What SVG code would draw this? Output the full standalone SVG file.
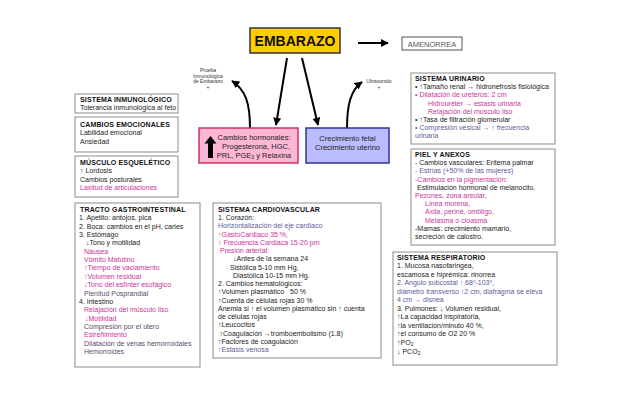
<svg xmlns="http://www.w3.org/2000/svg" width="640" height="403" viewBox="0 0 640 403">
<style>
text{font-family:"Liberation Sans",Arial,sans-serif;font-size:7px;fill:#222}
.t{font-weight:bold;letter-spacing:0.15px;fill:#111}
.m{fill:#CC3399}
.p{fill:#5C5C99}
.g{fill:#5B4B6B}
.box{fill:#fff;stroke:#8c8c8c;stroke-width:1}
.sm{font-size:5px;fill:#333;text-anchor:middle}
.con{fill:none;stroke:#000;stroke-width:2}
</style>
<defs>
<marker id="ah" viewBox="0 0 10 10" refX="9" refY="5" markerWidth="4" markerHeight="4" orient="auto" markerUnits="strokeWidth">
<path d="M0,0 L10,5 L0,10 z" fill="#000"/>
</marker>
</defs>
<rect width="640" height="403" fill="#fff"/>

<g id="connectors">
<line class="con" x1="358" y1="43" x2="388" y2="43" marker-end="url(#ah)"/>
<line class="con" x1="287" y1="58" x2="276" y2="125" marker-end="url(#ah)"/>
<line class="con" x1="302" y1="58" x2="318" y2="125" marker-end="url(#ah)"/>
<path class="con" d="M250,128 C250,104 246,90 232,81" marker-end="url(#ah)"/>
<path class="con" d="M347,128 C347,104 351,90 362,82" marker-end="url(#ah)"/>
</g>

<g id="embarazo">
<rect x="250" y="28" width="90" height="25" fill="#FFCC00" stroke="#333" stroke-width="1.5"/>
<text x="295" y="46" style="font-size:14px;font-weight:bold;text-anchor:middle;fill:#111">EMBARAZO</text>
</g>

<g id="amenorrea">
<rect x="402" y="37" width="60" height="13" fill="#fff" stroke="#555" stroke-width="1"/>
<text x="432" y="46.5" style="font-size:7.5px;text-anchor:middle;fill:#555">AMENORREA</text>
</g>

<g id="label-prueba">
<text class="sm" x="208" y="72">Prueba</text>
<text class="sm" x="208" y="77.5">Inmunológica</text>
<text class="sm" x="208" y="83">de Embarazo</text>
<text class="sm" x="208" y="89">+</text>
</g>
<g id="label-ultrasonido">
<text class="sm" x="379" y="83">Ultrasonido</text>
<text class="sm" x="379" y="89">+</text>
</g>

<g id="hormonales">
<rect x="199" y="128" width="99" height="35" fill="#FFB6D5" stroke="#CC3366" stroke-width="1.5"/>
<polygon points="210.5,136 216.5,143.5 213,143.5 213,158 208,158 208,143.5 204.5,143.5" fill="#000"/>
<text x="254" y="140" style="font-size:7.5px;text-anchor:middle">Cambios hormonales:</text>
<text x="256" y="148.5" style="font-size:7.5px;text-anchor:middle">Progesterona,  HGC,</text>
<text x="254" y="157.5" style="font-size:7.5px;text-anchor:middle">PRL, PGE<tspan style="font-size:5px" dy="1.5">3</tspan><tspan dy="-1.5"> y Relaxina</tspan></text>
</g>

<g id="crecimiento">
<rect x="306" y="128" width="83" height="35" fill="#BBBBFF" stroke="#333399" stroke-width="1.5"/>
<text x="347.5" y="141" style="font-size:7.5px;text-anchor:middle">Crecimiento fetal</text>
<text x="347.5" y="149.5" style="font-size:7.5px;text-anchor:middle">Crecimiento uterino</text>
</g>

<g id="inmunologico">
<rect class="box" x="75" y="94" width="103" height="19"/>
<text class="t" x="80" y="102">SISTEMA INMUNOLÓGICO</text>
<text x="80" y="110">Tolerancia inmunológica al feto</text>
</g>

<g id="emocionales">
<rect class="box" x="75" y="117" width="103" height="35"/>
<text class="t" x="80" y="126.5">CAMBIOS EMOCIONALES</text>
<text x="80" y="135">Labilidad emocional</text>
<text x="80" y="143.5">Ansiedad</text>
</g>

<g id="musculo">
<rect class="box" x="75" y="156" width="103" height="41"/>
<text class="t" x="80" y="164.5">MÚSCULO ESQUELÉTICO</text>
<text x="80" y="173">↑ Lordosis</text>
<text x="80" y="181.5">Cambios posturales</text>
<text class="m" x="80" y="190">Laxitud de articulaciones</text>
</g>

<g id="gastrointestinal">
<rect class="box" x="75" y="203" width="125" height="164"/>
<text class="t" x="80" y="212">TRACTO GASTROINTESTINAL</text>
<text x="79" y="220.35">1. Apetito: antojos, pica</text>
<text x="79" y="228.7">2. Boca:  cambios en el pH, caries</text>
<text x="79" y="237.05">3. Estómago</text>
<text x="86" y="245.4">↓Tono y motilidad</text>
<text class="m" x="84" y="253.75">Náusea</text>
<text class="m" x="84" y="262.1">Vómito Matutino</text>
<text class="m" x="84" y="270.45">↑Tiempo de vaciamiento</text>
<text class="m" x="84" y="278.8">↑Volumen residual</text>
<text class="m" x="84" y="287.15">↓Tono del esfínter esofágico</text>
<text class="g" x="84" y="295.5">Plenitud Posprandial</text>
<text x="79" y="303.85">4. Intestino</text>
<text class="m" x="84" y="312.2">Relajación del músculo liso</text>
<text class="m" x="85" y="320.55">↓Motilidad</text>
<text class="g" x="84" y="328.9">Compresión por el útero</text>
<text class="m" x="84" y="337.25">Estreñimiento</text>
<text class="g" x="84" y="345.6">Dilatación de venas hemorroidales</text>
<text class="g" x="84" y="353.95">Hemorroides</text>
</g>

<g id="cardiovascular">
<rect class="box" x="213" y="203" width="168" height="155"/>
<text class="t" x="218" y="212">SISTEMA CARDIOVASCULAR</text>
<text x="218" y="220.24">1. Corazón:</text>
<text class="p" x="218" y="228.48">Horizontalización del eje cardiaco</text>
<text class="m" x="218" y="236.72">↑GastoCardiaco 35 %,</text>
<text class="m" x="218" y="244.96">↑ Frecuencia Cardiaca 15-20 pm</text>
<text class="m" x="220" y="253.2">Presión arterial:</text>
<text x="233" y="261.44">↓Antes de la semana 24</text>
<text x="230" y="269.68">Sistólica 5-10 mm Hg,</text>
<text x="233" y="277.92">Diastólica 10-15 mm Hg.</text>
<text x="218" y="286.16">2. Cambios hematológicos:</text>
<text x="218" y="294.4">↑Volumen plasmático</text>
<text x="290" y="294.4">50 %</text>
<text x="218" y="302.64">↑Cuenta de células rojas 30 %</text>
<text x="218" y="310.88">Anemia si ↑ el  volumen plasmático sin ↑ cuenta</text>
<text x="218" y="319.12">de células rojas</text>
<text x="218" y="327.36">↑Leucocitos</text>
<text x="219.5" y="335.6">↑Coagulación →tromboembolismo (1.8)</text>
<text x="218" y="343.84">↑Factores de coagulación</text>
<text class="p" x="218" y="352.08">↑Estasis venosa</text>
</g>

<g id="urinario">
<rect class="box" x="411" y="73" width="144" height="71"/>
<text class="t" x="415" y="81">SISTEMA URINARIO</text>
<text x="415" y="89.2">• ↑Tamaño renal → hidronefrosis  fisiológica</text>
<text class="m" x="415" y="97.4">• Dilatación de ureteros: 2 cm</text>
<text class="m" x="428" y="105.6">Hidrouréter →  estasis  urinaria</text>
<text class="m" x="428" y="113.8">Relajación del músculo liso</text>
<text x="415" y="122">• ↑Tasa de filtración glomerular</text>
<text class="p" x="415" y="130.2">• Compresión vesical  →  ↑ frecuencia</text>
<text class="p" x="415" y="138.4">urinaria</text>
</g>

<g id="piel">
<rect class="box" x="411" y="149" width="144" height="96"/>
<text class="t" x="415" y="157">PIEL Y ANEXOS</text>
<text x="415" y="165.2">- Cambios vasculares: Eritema palmar</text>
<text class="p" x="415" y="173.4">- Estrías (+50% de las mujeres)</text>
<text class="m" x="415" y="181.6">-Cambios en la pigmentación:</text>
<text x="417" y="189.8">Estimulación hormonal de melanocito.</text>
<text class="m" x="415" y="198">Pezones, zona areolar,</text>
<text class="m" x="425" y="206.2">Línea morena,</text>
<text class="m" x="425" y="214.4">Axila, periné, ombligo,</text>
<text class="m" x="425" y="222.6">Melasma ó cloasma</text>
<text x="415" y="230.8">-Mamas: crecimiento mamario,</text>
<text x="415" y="239">secreción de calostro.</text>
</g>

<g id="respiratorio">
<rect class="box" x="393" y="252" width="164" height="113"/>
<text class="t" x="397" y="259.5">SISTEMA RESPIRATORIO</text>
<text x="397" y="268">1. Mucosa nasofaringea,</text>
<text x="397" y="276.5">escamosa e hiprémica: rinorrea</text>
<text class="p" x="397" y="285">2. Angulo subcostal ↑ 68º-103º,</text>
<text class="p" x="397" y="293.5">diámetro transverso ↑2 cm, diafragma se eleva</text>
<text class="p" x="397" y="302">4 cm → disnea</text>
<text x="397" y="310.5">3. Pulmones:  ↓ Volumen residual,</text>
<text x="397" y="319">↑La capacidad inspiratoria,</text>
<text x="397" y="327.5">↑la ventilación/minuto 40 %,</text>
<text x="397" y="336">↑el consumo de O2  20 %</text>
<text x="397" y="344.5">↑PO<tspan style="font-size:5px" dy="1.5">2</tspan></text>
<text x="397" y="353.5">↓ PCO<tspan style="font-size:5px" dy="1.5">2</tspan></text>
</g>
</svg>
